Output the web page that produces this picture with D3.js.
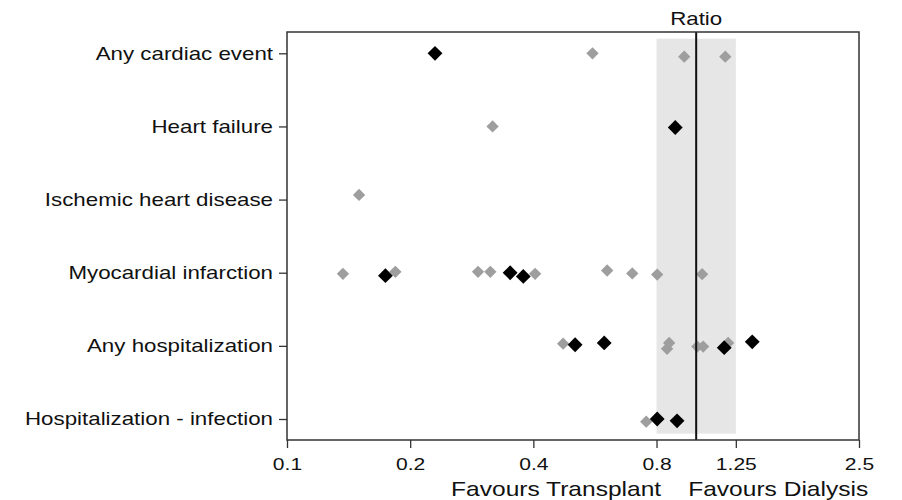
<!DOCTYPE html>
<html>
<head>
<meta charset="utf-8">
<script src="https://cdn.jsdelivr.net/npm/d3@7"></script>
<style>
  body { margin: 0; background: #fff; }
  text { font-family: "Liberation Sans", Arial, sans-serif; fill: #111; }
</style>
</head>
<body>
<div id="chart"></div>
<script>
// outcome categories, top to bottom
var categories = ["Any cardiac event", "Heart failure", "Ischemic heart disease",
  "Myocardial infarction", "Any hospitalization", "Hospitalization - infection"];

// ratio tick labels on the log axis
var ratioTicks = [0.1, 0.2, 0.4, 0.8, 1.25, 2.5];

// equivalence band around 1
var bandRange = [0.8, 1.25];

// [category index, ratio, vertical jitter in category units]
var grayPoints = [
  [0, 0.558, 0], [0, 0.935, 0.046], [0, 1.178, 0.046],
  [1, 0.318, 0],
  [2, 0.150, -0.064],
  [3, 0.137, 0.015], [3, 0.184, -0.012], [3, 0.293, -0.012], [3, 0.314, -0.012],
  [3, 0.404, 0.015], [3, 0.606, -0.03], [3, 0.698, 0.01], [3, 0.803, 0.025], [3, 1.034, 0.02],
  [4, 0.473, -0.03], [4, 0.849, 0.04], [4, 0.859, -0.04], [4, 1.006, 0.01],
  [4, 1.040, 0.01], [4, 1.197, -0.04],
  [5, 0.755, 0.037]
];
var blackPoints = [
  [0, 0.230, 0],
  [1, 0.889, 0.015],
  [3, 0.174, 0.04], [3, 0.351, 0], [3, 0.378, 0.05],
  [4, 0.506, -0.015], [4, 0.596, -0.04], [4, 1.171, 0.025], [4, 1.371, -0.055],
  [5, 0.803, 0], [5, 0.898, 0.025]
];

var margin = {top: 32, right: 43, bottom: 60, left: 287};
var W = 902, H = 500;
var dims = {width: W - margin.left - margin.right, height: H - margin.top - margin.bottom};
var stretch = 1.24; // glyphs in the picture are wider than they are tall

var svg = d3.select("#chart").append("svg")
    .attr("width", W)
    .attr("height", H)
  .append("g")
    .attr("transform", "translate(" + margin.left + "," + margin.top + ")");

var x = d3.scaleLog()
  .domain([0.1, 2.5])
  .range([0, dims.width]);

var y = d3.scaleLinear()
  .domain([0, categories.length - 1])
  .range([21.3, dims.height - 21]);

// shaded band
svg.append("rect")
  .attr("x", x(bandRange[0]))
  .attr("width", x(bandRange[1]) - x(bandRange[0]))
  .attr("y", y(-0.2))
  .attr("height", y(5.2) - y(-0.2))
  .attr("fill", "#e6e6e6");

var diamond = function(size) {
  return d3.symbol().type(d3.symbolSquare).size(size)();
};

svg.selectAll(".gray")
  .data(grayPoints)
  .join("path")
    .attr("class", "gray")
    .attr("d", diamond(76))
    .attr("fill", "#9e9e9e")
    .attr("transform", function(d) {
      return "translate(" + x(d[1]) + "," + y(d[0] + d[2]) + ") rotate(45)";
    });

// reference line at ratio 1
svg.append("line")
  .attr("x1", x(1)).attr("x2", x(1))
  .attr("y1", 0).attr("y2", dims.height)
  .attr("stroke", "#111")
  .attr("stroke-width", 2);

svg.selectAll(".black")
  .data(blackPoints)
  .join("path")
    .attr("class", "black")
    .attr("d", diamond(110))
    .attr("fill", "#000")
    .attr("transform", function(d) {
      return "translate(" + x(d[1]) + "," + y(d[0] + d[2]) + ") rotate(45)";
    });

// frame
svg.append("rect")
  .attr("width", dims.width)
  .attr("height", dims.height)
  .attr("fill", "none")
  .attr("stroke", "#333")
  .attr("stroke-width", 1.5);

// y axis
var yAxis = svg.append("g")
  .call(d3.axisLeft(y)
    .tickValues(d3.range(categories.length))
    .tickFormat(function(i) { return categories[i]; })
    .tickSize(8).tickSizeOuter(0).tickPadding(6));
yAxis.select(".domain").remove();
yAxis.selectAll("line").attr("stroke", "#333").attr("stroke-width", 1.3);
yAxis.selectAll("text")
  .style("font-size", "18px")
  .attr("x", -14 / stretch)
  .attr("transform", "scale(" + stretch + ",1)");

// x axis
var xAxis = svg.append("g")
  .attr("transform", "translate(0," + dims.height + ")")
  .call(d3.axisBottom(x)
    .tickValues(ratioTicks)
    .tickFormat(function(d) { return d; })
    .tickSize(8).tickSizeOuter(0).tickPadding(10));
xAxis.select(".domain").remove();
xAxis.selectAll("line").attr("stroke", "#333").attr("stroke-width", 1.3);
xAxis.selectAll("text")
  .style("font-size", "17px")
  .attr("transform", "scale(" + stretch + ",1)");

// labels
var addLabel = function(txt, px, py, anchor, size) {
  svg.append("text")
    .attr("transform", "translate(" + px + "," + py + ") scale(" + stretch + ",1)")
    .attr("text-anchor", anchor)
    .style("font-size", size + "px")
    .text(txt);
};
addLabel("Ratio", x(1), -7, "middle", 18);
addLabel("Favours Transplant", x(1) - 35, dims.height + 56, "end", 19.8);
addLabel("Favours Dialysis", x(1) - 8, dims.height + 56, "start", 19.8);
</script>
</body>
</html>
